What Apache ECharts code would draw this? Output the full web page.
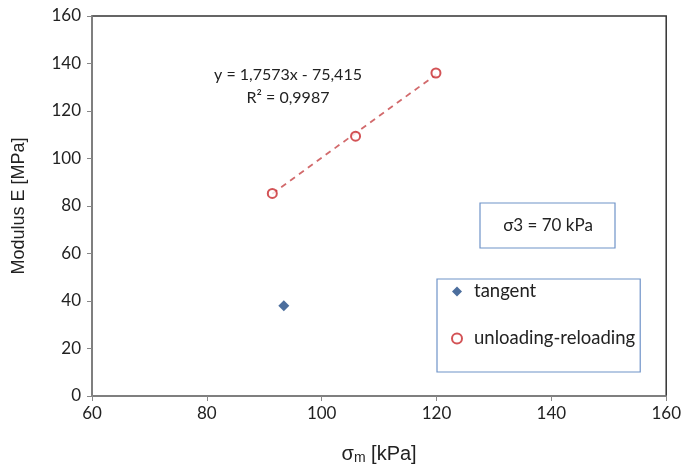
<!DOCTYPE html>
<html>
<head>
<meta charset="utf-8">
<script src="https://cdn.jsdelivr.net/npm/echarts@6/dist/echarts.min.js"></script>
<style>
html,body{margin:0;padding:0;background:#fff;}
#chart{width:684px;height:470px;}
</style>
</head>
<body>
<div id="chart"></div>
<script>
// tangent modulus
var tangentPts = [[93.4, 38]];
// unloading-reloading modulus
var urPts = [[91.4, 85.3], [105.9, 109.4], [119.9, 136]];
// linear trend (y = 1,7573x - 75,415) end points
var trendPts = [[91.4, 85.2], [119.9, 135.3]];
var xTicks = [60, 80, 100, 120, 140, 160];
var yTicks = [0, 20, 40, 60, 80, 100, 120, 140, 160];
var eqText = 'y = 1,7573x - 75,415';
var r2Text = 'R\u00b2 = 0,9987';
var noteText = '\u03c33 = 70 kPa';

var tickFont = 'Lato, "Open Sans", sans-serif';
var titleFont = '"Liberation Sans", Arial, sans-serif';

var myChart = echarts.init(document.getElementById('chart'));
var option = {
	backgroundColor: '#fff',
	animation: false,
	grid: {
		left: 92, right: 17, top: 16, bottom: 73,
		show: true, borderColor: '#333', borderWidth: 1.5
	},
	xAxis: {
		type: 'value', min: xTicks[0], max: xTicks[xTicks.length - 1], interval: 20,
		axisLine: { lineStyle: { color: '#888', width: 1.5 } },
		axisTick: { show: true, length: 5, lineStyle: { color: '#888' } },
		splitLine: { show: false },
		axisLabel: { color: '#222', fontSize: 17, fontFamily: tickFont, margin: 9 },
		name: '{s|\u03c3}{sub|m}{s| [kPa]}',
		nameLocation: 'middle', nameGap: 47,
		nameTextStyle: {
			rich: {
				s: { fontSize: 20, fontFamily: titleFont, color: '#222' },
				sub: { fontSize: 14, fontFamily: titleFont, color: '#222', verticalAlign: 'bottom', padding: [8, 0, 0, 0] }
			}
		}
	},
	yAxis: {
		type: 'value', min: yTicks[0], max: yTicks[yTicks.length - 1], interval: 20,
		axisLine: { show: true, lineStyle: { color: '#888', width: 1.5 } },
		axisTick: { show: true, length: 5, lineStyle: { color: '#888' } },
		splitLine: { show: false },
		axisLabel: { color: '#222', fontSize: 17, fontFamily: tickFont, margin: 11 },
		name: 'Modulus E [MPa]',
		nameLocation: 'middle', nameGap: 64, nameRotate: 90,
		nameTextStyle: { fontSize: 18, fontFamily: titleFont, color: '#222' }
	},
	legend: {
		orient: 'vertical', left: 437, top: 279,
		padding: [2, 5, 23, 14],
		itemGap: 26, itemWidth: 10, itemHeight: 10,
		borderColor: '#6f93c8', borderWidth: 1.2,
		data: ['tangent', 'unloading-reloading'],
		textStyle: { fontSize: 18.5, fontFamily: tickFont, color: '#222', lineHeight: 21, padding: [0, 0, 0, 7] }
	},
	graphic: [
		{ type: 'text', style: { text: eqText, x: 288, y: 75, align: 'center', verticalAlign: 'middle', font: '16px ' + tickFont, fill: '#222' } },
		{ type: 'text', style: { text: r2Text, x: 288, y: 98, align: 'center', verticalAlign: 'middle', font: '16px ' + tickFont, fill: '#222' } },
		{ type: 'rect', shape: { x: 480, y: 203, width: 135, height: 45 }, style: { fill: '#fff', stroke: '#6f93c8', lineWidth: 1.2 } },
		{ type: 'text', style: { text: noteText, x: 548, y: 226, align: 'center', verticalAlign: 'middle', font: '17px ' + tickFont, fill: '#222' } }
	],
	series: [
		{
			name: 'trend', type: 'line', data: trendPts, symbol: 'none',
			lineStyle: { color: '#d26a6c', width: 1.8, type: [6, 5] },
			silent: true, z: 1
		},
		{
			name: 'tangent', type: 'scatter', data: tangentPts,
			symbol: 'diamond', symbolSize: 11,
			itemStyle: { color: '#1f4a85' }, z: 3
		},
		{
			name: 'unloading-reloading', type: 'scatter', data: urPts,
			symbol: 'circle', symbolSize: 9,
			itemStyle: { color: '#fff', borderColor: '#c8282c', borderWidth: 2 }, z: 3
		}
	]
};
myChart.setOption(option);
</script>
</body>
</html>
